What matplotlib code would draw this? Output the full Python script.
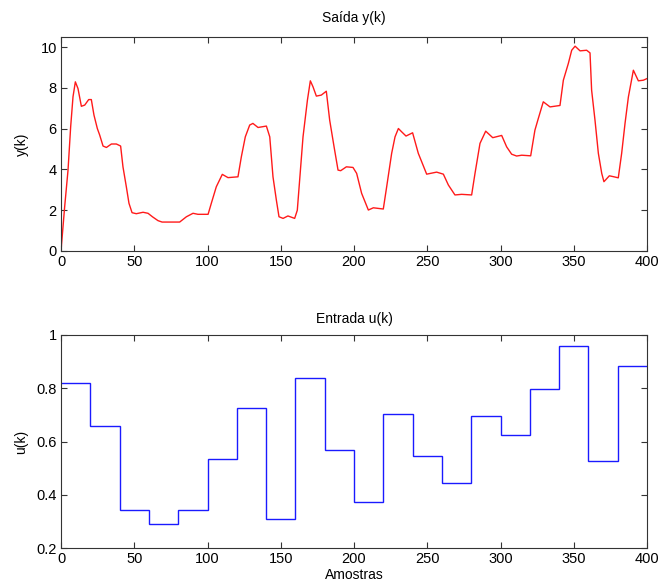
import numpy as np
import matplotlib
matplotlib.use("Agg")
import matplotlib.pyplot as plt

# Output y(k): points
k_y = [0, 2.5, 4.8, 6.6, 8.2, 9.8, 11.6, 13.9, 16.2, 18.9, 20.7, 22.5, 24.8, 26.4,
       28.7, 31, 34.4, 37.8, 40.7, 42.3, 44.6, 46.4, 48.5, 51.4, 56, 59.4, 62.4,
       66.2, 69, 81, 85.6, 90.1, 93.5, 100.4, 102.6, 106, 110.1, 114, 120.8, 123.1,
       125.8, 128.8, 131, 134.5, 140.2, 142.5, 144.7, 147, 148.8, 151.6, 154.9,
       159.5, 161.3, 162.9, 165.2, 168.2, 170.2, 172, 174.3, 177.7, 181.1, 183.4,
       186.4, 189.1, 190.9, 194.8, 199.3, 201.8, 205.2, 207.5, 209.8, 213.2, 220,
       222.3, 225.7, 228, 230.3, 232.5, 235.5, 240, 243.9, 246.2, 249.6, 256.4,
       261, 264.4, 268.9, 273.5, 280.3, 282.6, 286, 289.9, 294.7, 300.8, 304.2,
       307.6, 311, 314.5, 320.6, 323.5, 325.8, 329.2, 333.8, 340.6, 342.9, 346.3,
       348.6, 350.9, 354.3, 358.8, 361.1, 362.2, 364.5, 366.8, 369.1, 370.6, 374.3,
       377.5, 380.4, 382.7, 385, 387.3, 390.7, 394.1, 397.5, 400]
y_vals = [0.0, 2.17, 3.97, 6.1, 7.57, 8.3, 7.97, 7.1, 7.16, 7.43, 7.43, 6.67, 6.01, 5.69,
          5.15, 5.08, 5.25, 5.25, 5.15, 4.13, 3.15, 2.34, 1.88, 1.83, 1.9, 1.85, 1.68,
          1.49, 1.42, 1.42, 1.68, 1.85, 1.8, 1.8, 2.34, 3.15, 3.76, 3.6, 3.64, 4.62,
          5.6, 6.18, 6.26, 6.06, 6.13, 5.6, 3.64, 2.5, 1.68, 1.6, 1.72,
          1.6, 2.0, 3.48, 5.6, 7.4, 8.35, 8.06, 7.6, 7.65, 7.84, 6.42,
          5.11, 3.97, 3.94, 4.13, 4.1, 3.81, 2.83, 2.42, 2.01, 2.12, 2.06,
          3.15, 4.79, 5.6, 6.01, 5.85, 5.64, 5.8, 4.79, 4.38, 3.77, 3.87,
          3.77, 3.24, 2.75, 2.78, 2.75, 3.81, 5.28, 5.88, 5.56, 5.67, 5.11,
          4.75, 4.66, 4.7, 4.67, 5.93, 6.5, 7.32, 7.07, 7.14, 8.38, 9.2,
          9.85, 10.05, 9.82, 9.85, 9.72, 7.89, 6.42, 4.79, 3.81, 3.4, 3.69,
          3.64, 3.59, 4.79, 6.26, 7.56, 8.87, 8.35, 8.38, 8.46]

# Input u(k): one level per 20-sample block
u_edges = [0, 20, 40, 60, 80, 100, 120, 140, 160, 180, 200, 220, 240, 260, 280,
           300, 320, 340, 360, 380, 400]
u_levels = [0.82, 0.658, 0.341, 0.292, 0.341, 0.534, 0.726, 0.31, 0.838, 0.569,
            0.372, 0.703, 0.546, 0.444, 0.694, 0.623, 0.797, 0.96, 0.525, 0.882]

plt.rcParams['font.family'] = ['Liberation Sans', 'DejaVu Sans']
plt.rcParams['font.size'] = 10

fig = plt.figure(figsize=(6.6, 5.87), dpi=100)
W, H = 660, 587
ax1 = fig.add_axes([61 / W, 1 - 251 / H, (647 - 61) / W, (251 - 37) / H])
ax2 = fig.add_axes([61 / W, 1 - 548 / H, (647 - 61) / W, (548 - 335) / H])

ax1.plot(k_y, y_vals, color='#ff1a1a', lw=1.0)
ax1.set_xlim(0, 400)
ax1.set_ylim(0, 10.5)
ax1.set_yticks([0, 2, 4, 6, 8, 10])
ax1.set_xticks([0, 50, 100, 150, 200, 250, 300, 350, 400])
ax1.set_title('Saída y(k)', fontsize=10, pad=11)
ax1.set_ylabel('y(k)', labelpad=8)

ax2.stairs(u_levels, u_edges, color='#1a1aff', lw=1.0, baseline=None)
ax2.set_xlim(0, 400)
ax2.set_ylim(0.2, 1.0)
ax2.set_yticks([0.2, 0.4, 0.6, 0.8, 1.0])
ax2.set_yticklabels(['0.2', '0.4', '0.6', '0.8', '1'])
ax2.set_xticks([0, 50, 100, 150, 200, 250, 300, 350, 400])
ax2.set_title('Entrada u(k)', fontsize=10, pad=9)
ax2.set_ylabel('u(k)', labelpad=6)
ax2.set_xlabel('Amostras', labelpad=1)

for ax in (ax1, ax2):
    ax.tick_params(direction='in', top=True, right=True, length=4, width=0.8,
                   labelsize=10.5, color='#333333', pad=3)
    for s in ax.spines.values():
        s.set_color('#333333')
        s.set_linewidth(0.8)

fig.savefig('out.png', dpi=100)
